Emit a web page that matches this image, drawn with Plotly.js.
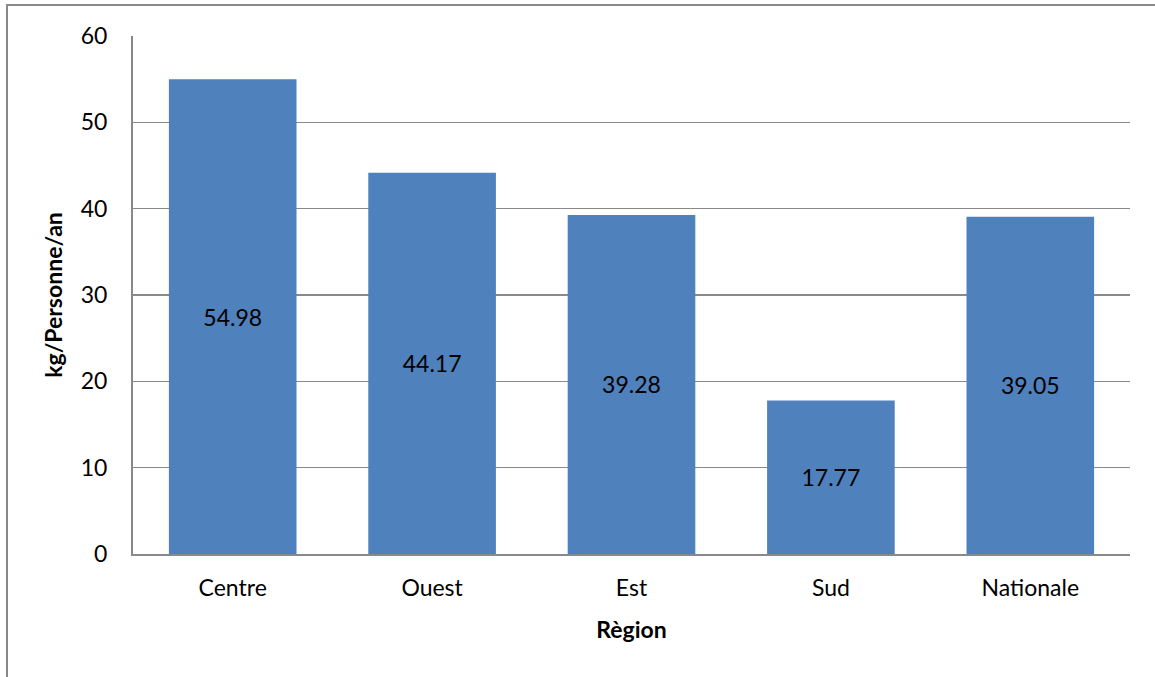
<!DOCTYPE html>
<html>
<head>
<meta charset="utf-8">
<script src="https://cdn.plot.ly/plotly-3.0.1.min.js"></script>
<style>
html,body{margin:0;padding:0;background:#fff;}
#chart{width:1155px;height:677px;position:absolute;left:0;top:0;}
#frame{position:absolute;left:6px;top:4px;width:1200px;height:700px;border-left:2px solid #898989;border-top:2px solid #898989;pointer-events:none;}
</style>
</head>
<body>
<div id="chart"></div>
<div id="frame"></div>
<script>
const categories = ["Centre", "Ouest", "Est", "Sud", "Nationale"];
const values = [54.98, 44.17, 39.28, 17.77, 39.05];
const labels = ["54.98", "44.17", "39.28", "17.77", "39.05"];
const yTicks = [0, 10, 20, 30, 40, 50, 60];

const font = "Lato, 'Open Sans', sans-serif";

Plotly.newPlot("chart", [{
  type: "bar",
  x: categories,
  y: values,
  text: labels,
  textposition: "inside",
  insidetextanchor: "middle",
  textangle: 0,
  textfont: {family: font, size: 23, color: "#000"},
  marker: {color: "#4F81BD"},
  hoverinfo: "x+y"
}], {
  width: 1155,
  height: 677,
  margin: {l: 133, r: 25, t: 36, b: 123},
  paper_bgcolor: "rgba(0,0,0,0)",
  plot_bgcolor: "#fff",
  bargap: 0.36,
  showlegend: false,
  font: {family: font, size: 23, color: "#000"},
  xaxis: {
    showline: true, linecolor: "#898989", linewidth: 2,
    ticks: "", ticklabelstandoff: 12,
    tickfont: {family: font, size: 23, color: "#000"},
    title: {text: "<b>Règion</b>", font: {family: font, size: 23, color: "#000"}, standoff: 22}
  },
  yaxis: {
    range: [0, 60],
    tickvals: yTicks,
    showline: true, linecolor: "#898989", linewidth: 2,
    showgrid: true, gridcolor: "#898989", gridwidth: 1.3,
    zeroline: false,
    ticks: "", ticklabelstandoff: 19,
    tickfont: {family: font, size: 23, color: "#000"},
    title: {text: "<b>kg/Personne/an</b>", font: {family: font, size: 23, color: "#000"}, standoff: 12}
  }
}, {displayModeBar: false, staticPlot: true});
</script>
</body>
</html>
